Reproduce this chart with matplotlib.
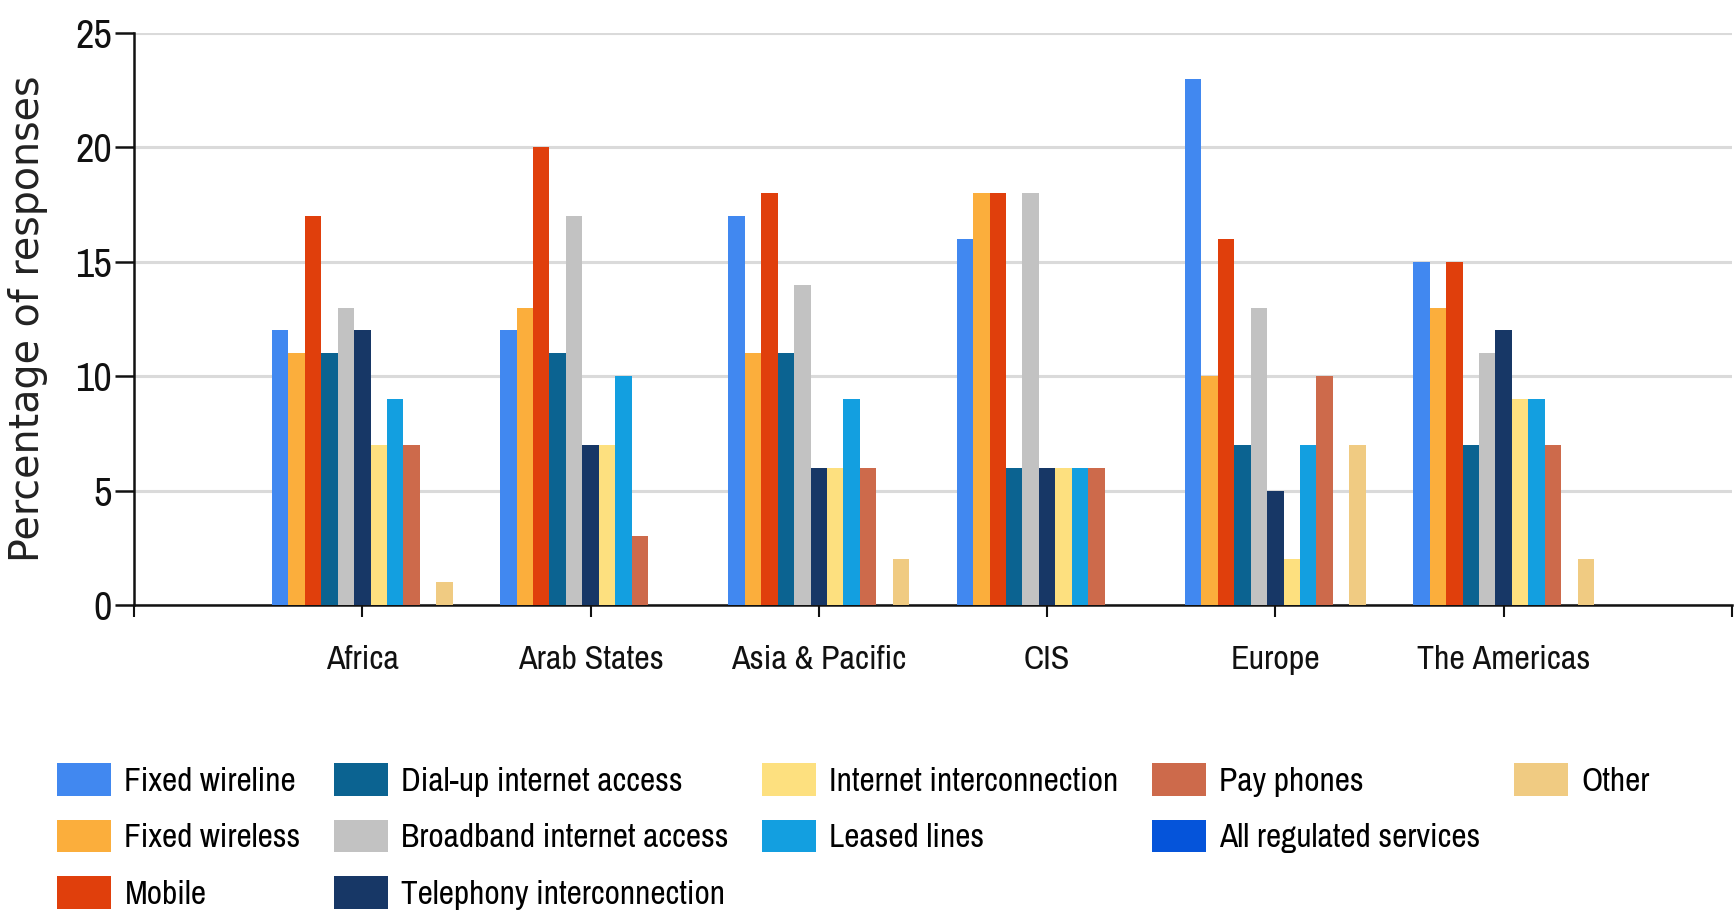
import numpy as np
import matplotlib
matplotlib.use("Agg")
import matplotlib.pyplot as plt
from matplotlib.patches import Rectangle

# Regions and service types
regions = ["Africa", "Arab States", "Asia & Pacific", "CIS", "Europe", "The Americas"]
services = ["Fixed wireline", "Fixed wireless", "Mobile", "Dial-up internet access",
            "Broadband internet access", "Telephony interconnection", "Internet interconnection",
            "Leased lines", "Pay phones", "All regulated services", "Other"]
colors = ["#4188f0", "#fbae3c", "#e03f0c", "#0b6391", "#c2c2c2", "#173766",
          "#fde07f", "#139fe0", "#cd6a4b", "#0554da", "#f0cb82"]

# Percentage of responses, one list per service (regions in order)
fixed_wireline = [12, 12, 17, 16, 23, 15]
fixed_wireless = [11, 13, 11, 18, 10, 13]
mobile = [17, 20, 18, 18, 16, 15]
dialup = [11, 11, 11, 6, 7, 7]
broadband = [13, 17, 14, 18, 13, 11]
telephony_ic = [12, 7, 6, 6, 5, 12]
internet_ic = [7, 7, 6, 6, 2, 9]
leased_lines = [9, 10, 9, 6, 7, 9]
pay_phones = [7, 3, 6, 6, 10, 7]
all_regulated = [0, 0, 0, 0, 0, 0]
other = [1, 0, 2, 0, 7, 2]

series = [fixed_wireline, fixed_wireless, mobile, dialup, broadband, telephony_ic,
          internet_ic, leased_lines, pay_phones, all_regulated, other]

narrow = ["Archivo Narrow", "DejaVu Sans"]

fig = plt.figure(figsize=(17.34, 9.16), dpi=100)
ax = fig.add_axes([0.0773, 0.3395, 0.9215, 0.6245])

x = np.arange(1, len(regions) + 1)
w = 0.072
handles = []
for i, (vals, name, col) in enumerate(zip(series, services, colors)):
    h = ax.bar(x + (i - 5) * w, vals, width=w, color=col, label=name, zorder=3)
    handles.append(h)

ax.set_xlim(0, 7)
ax.set_ylim(0, 25)
ax.set_yticks([0, 5, 10, 15, 20, 25])
ax.set_xticks(np.arange(0, 8))
ax.set_xticklabels([""] + regions + [""], family=narrow, fontsize=24.5)
ax.set_yticklabels([str(v) for v in [0, 5, 10, 15, 20, 25]], family=narrow, fontsize=29)

ax.yaxis.grid(True, color="#dadada", linewidth=2.2, zorder=0)
ax.set_axisbelow(True)
for s in ["top", "right"]:
    ax.spines[s].set_visible(False)
for s in ["left", "bottom"]:
    ax.spines[s].set_linewidth(1.8)
    ax.spines[s].set_color("#111111")
ax.tick_params(axis="y", length=14, width=1.8, pad=2, colors="#111111")
ax.tick_params(axis="x", length=8.5, width=1.5, pad=20.5, colors="#111111")

ax.set_ylabel("Percentage of responses", family="DejaVu Sans", fontsize=28.5, color="#222222")
ax.yaxis.set_label_coords(-0.054, 0.5)

# legend laid out in 5 columns of 3 rows, blanks fill the short columns
blank = Rectangle((0, 0), 1, 1, visible=False)
order = [handles[0], handles[1], handles[2],
         handles[3], handles[4], handles[5],
         handles[6], handles[7], blank,
         handles[8], handles[9], blank,
         handles[10], blank, blank]
labels = [h.get_label() if h is not blank else "" for h in order]
fig.legend(order, labels, ncol=5, loc="upper left", bbox_to_anchor=(0.0329, 0.1665),
           frameon=False, borderpad=0, borderaxespad=0,
           prop={"family": narrow, "size": 24},
           handlelength=1.62, handleheight=1.11, handletextpad=0.4,
           labelspacing=0.69, columnspacing=1.0)

fig.savefig("out.png", dpi=100)
